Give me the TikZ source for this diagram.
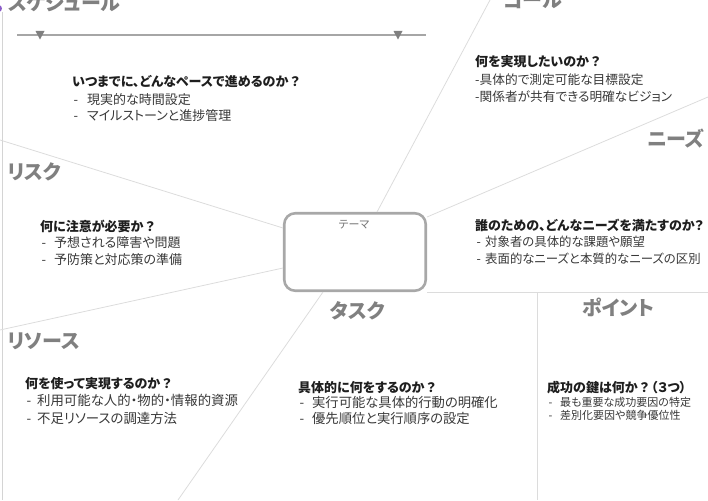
\documentclass[tikz,border=0pt]{standalone}
\usepackage{fontspec}
\setmainfont{Noto Sans CJK JP}[RawFeature=+palt]
\definecolor{titlegray}{HTML}{808080}
\definecolor{headcol}{HTML}{1E1E1E}
\definecolor{bodycol}{HTML}{383838}
\definecolor{conngray}{HTML}{DCDCDC}
\definecolor{boxgray}{HTML}{A8A8A8}
\definecolor{tlgray}{HTML}{A6A6A6}
\definecolor{trigray}{HTML}{7F7F7F}
\definecolor{edgegray}{HTML}{D4D4D4}
\definecolor{dotpurple}{HTML}{8B5CC8}
\newcommand\dashb[1]{\makebox[#1][l]{\hspace{1.5pt}-}}
\newcommand\hd[1]{\textcolor{headcol}{\bfseries #1}}
\begin{document}
\begin{tikzpicture}[x=1pt,y=-1pt,
  conn/.style={draw=conngray, line width=0.8pt},
  ttl/.style={anchor=base west, inner sep=0pt, text=titlegray, font=\fontsize{20}{24}\selectfont\bfseries},
  blk/.style={anchor=base west, inner sep=0pt, align=left, text=bodycol, font=\fontsize{13}{17}\selectfont},
  tri/.style={fill=trigray},
]
\useasboundingbox (0,0) rectangle (708,500);
\clip (0,0) rectangle (708,500);

% left edge and purple mark
\coordinate (edgeTop) at (2,12);
\coordinate (edgeBot) at (2,500);
\draw[draw=edgegray, line width=1pt] (edgeTop) -- (edgeBot);
\fill[dotpurple] (-1.5,8.5) circle (3.5);

% central box
\node[draw=boxgray, line width=2.6pt, rounded corners=11pt, minimum width=141.5pt, minimum height=77.5pt, inner sep=0pt] (theme) at (355,252) {};
\node[inner sep=0pt, text=titlegray!90!black, font=\fontsize{11}{13}\selectfont] (themelabel) at (354,225) {テーマ};

% connector coordinates
\coordinate (goalA) at (377,212);   \coordinate (goalB) at (490,0);
\coordinate (needA) at (427,217);   \coordinate (needB) at (708,97);
\coordinate (riskA) at (283,228);   \coordinate (riskB) at (0,140);
\coordinate (resA) at (283,268);    \coordinate (resB) at (0,330);
\coordinate (taskA) at (323,292);   \coordinate (taskB) at (178,500);
\coordinate (horA) at (427,292);    \coordinate (horB) at (708,292);
\coordinate (verA) at (537,292);    \coordinate (verB) at (537,500);
\draw[conn] (goalA) -- (goalB);
\draw[conn] (needA) -- (needB);
\draw[conn] (riskA) -- (riskB);
\draw[conn] (resA) -- (resB);
\draw[conn] (taskA) -- (taskB);
\draw[conn] (horA) -- (horB);
\draw[conn] (verA) -- (verB);

% timeline
\coordinate (tlA) at (17,35);
\coordinate (tlB) at (426,35);
\draw[draw=tlgray, line width=1.5pt] (tlA) -- (tlB);
\fill[tri] (35.5,31) -- (44.5,31) -- (40,39.5) -- cycle;
\fill[tri] (393.5,31) -- (402.5,31) -- (398,39.5) -- cycle;

% titles
\node[ttl] (tSched) at (8,11) {スケジュール};
\node[ttl] (tGoal) at (503,8) {ゴール};
\node[ttl] (tNeeds) at (647,146) {ニーズ};
\node[ttl] (tRisk) at (7,179) {リスク};
\node[ttl] (tRes) at (7,348) {リソース};
\node[ttl] (tTask) at (330,318) {タスク};
\node[ttl] (tPoint) at (582,315) {ポイント};

% text blocks (anchor = baseline of the last line)
\node[blk] (bSched) at (72,121) {\hd{いつまでに、どんなペースで進めるのか\,？}\\
\dashb{15pt}現実的な時間設定\\
\dashb{15pt}マイルストーンと進捗管理};

\node[blk, font=\fontsize{12.7}{17.5}\selectfont] (bGoal) at (475,102) {\hd{\fontsize{13}{17.5}\selectfont 何を実現したいのか\,？}\\
-具体的で測定可能な目標設定\\
-関係者が共有できる明確なビジョン};

\node[blk, font=\fontsize{12.4}{16.5}\selectfont] (bNeeds) at (475,263) {\hd{\fontsize{13}{16.5}\selectfont 誰のための、どんなニーズを満たすのか？}\\
\dashb{10pt}対象者の具体的な課題や願望\\
\dashb{10pt}表面的なニーズと本質的なニーズの区別};

\node[blk, font=\fontsize{13}{16.5}\selectfont] (bRisk) at (40,264) {\hd{何に注意が必要か\,？}\\
\dashb{14pt}予想される障害や問題\\
\dashb{14pt}予防策と対応策の準備};

\node[blk, font=\fontsize{13.4}{17.5}\selectfont] (bRes) at (25,423) {\hd{\fontsize{13}{17.5}\selectfont 何を使って実現するのか\,？}\\
\dashb{12pt}利用可能な人的・物的・情報的資源\\
\dashb{12pt}不足リソースの調達方法};

\node[blk, font=\fontsize{13.3}{15.5}\selectfont] (bTask) at (298,423) {\hd{\fontsize{13}{15.5}\selectfont 具体的に何をするのか\,？}\\
\dashb{14pt}実行可能な具体的行動の明確化\\
\dashb{14pt}優先順位と実行順序の設定};

\node[blk] (bPointH) at (547,392) {\hd{成功の鍵は何か\,？\,（３つ）}};
\node[blk, font=\fontsize{11}{12.5}\selectfont] (bPoint) at (547,419) {\dashb{13pt}最も重要な成功要因の特定\\
\dashb{13pt}差別化要因や競争優位性};
\end{tikzpicture}
\end{document}
